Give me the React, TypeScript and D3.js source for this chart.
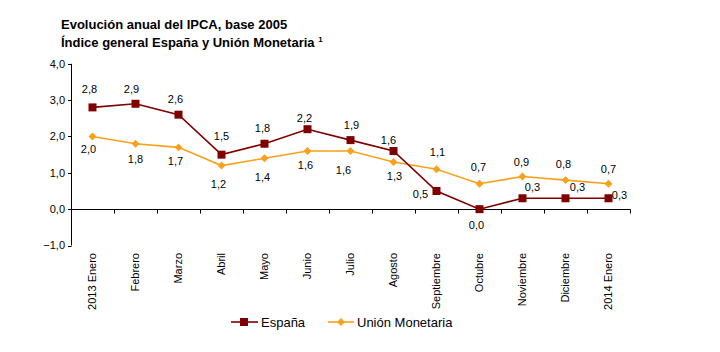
import React, { useEffect, useRef } from 'react';
import * as d3 from 'd3';

// months shown on the x axis
const months = [
    '2013 Enero', 'Febrero', 'Marzo', 'Abril', 'Mayo', 'Junio', 'Julio',
    'Agosto', 'Septiembre', 'Octubre', 'Noviembre', 'Diciembre', '2014 Enero'
];
// annual IPCA rate, %
const espana = [2.8, 2.9, 2.6, 1.5, 1.8, 2.2, 1.9, 1.6, 0.5, 0.0, 0.3, 0.3, 0.3];
const unionMonetaria = [2.0, 1.8, 1.7, 1.2, 1.4, 1.6, 1.6, 1.3, 1.1, 0.7, 0.9, 0.8, 0.7];
const yTicks = [-1, 0, 1, 2, 3, 4];

// where each value label sits relative to its point (px)
const espanaLabelOffset = [
    [-3, -18], [-4, -15], [-3, -16], [0, -19], [-2, -16], [-3, -11], [1, -15],
    [-5, -11], [-16, 3], [-3, 16], [10, -11], [12, -11], [11, -3]
];
const umLabelOffset = [
    [-4, 13], [0, 15], [-3, 14], [-3, 19], [-2, 19], [-2, 14], [-7, 19],
    [1, 14], [1, -17], [-1, -17], [-1, -14], [-2, -16], [0, -15]
];

const FONT = "Arial, 'Liberation Sans', sans-serif";
const RED = '#800000';
const ORANGE = '#F9A11B';

const fmt = (v: number) => d3.format('.1f')(v).replace('.', ',');

export default function App() {
    const ref = useRef<SVGSVGElement>(null);

    useEffect(() => {
        const svg = d3.select(ref.current);
        svg.selectAll('*').remove();

        const x = d3.scaleBand<string>().domain(months).range([71, 630]);
        const y = d3.scaleLinear().domain([-1, 4]).range([245.5, 63.8]);
        const cx = (i: number) => (x(months[i]) as number) + x.bandwidth() / 2;

        // titles
        svg.append('text')
            .attr('x', 61).attr('y', 29)
            .style('font-family', FONT).style('font-size', '13px').style('font-weight', 'bold')
            .text('Evolución anual del IPCA, base 2005');
        const t2 = svg.append('text')
            .attr('x', 61).attr('y', 47)
            .style('font-family', FONT).style('font-size', '13px').style('font-weight', 'bold');
        t2.append('tspan').text('Índice general España y Unión Monetaria ');
        t2.append('tspan').attr('dy', -5).style('font-size', '8px').text('1');

        // y axis
        const yAxis = svg.append('g');
        yAxis.append('line')
            .attr('x1', 71.5).attr('x2', 71.5)
            .attr('y1', y(4)).attr('y2', y(-1))
            .attr('stroke', '#000');
        yTicks.forEach(t => {
            yAxis.append('line')
                .attr('x1', 68).attr('x2', 71.5)
                .attr('y1', Math.round(y(t)) + 0.5).attr('y2', Math.round(y(t)) + 0.5)
                .attr('stroke', '#000');
            yAxis.append('text')
                .attr('x', 65).attr('y', y(t)).attr('dy', '0.35em')
                .attr('text-anchor', 'end')
                .style('font-family', FONT).style('font-size', '11px')
                .text(fmt(t));
        });

        // x axis at zero
        const y0 = Math.round(y(0)) + 0.5;
        svg.append('line')
            .attr('x1', 71.5).attr('x2', 630.5)
            .attr('y1', y0).attr('y2', y0)
            .attr('stroke', '#000');
        months.forEach((m, i) => {
            const bx = Math.round((x(m) as number) + x.bandwidth()) + 0.5;
            svg.append('line')
                .attr('x1', bx).attr('x2', bx)
                .attr('y1', y0).attr('y2', y0 + 4)
                .attr('stroke', '#000');
            svg.append('text')
                .attr('transform', 'translate(' + cx(i) + ',253) rotate(-90)')
                .attr('dy', '0.35em')
                .attr('text-anchor', 'end')
                .style('font-family', FONT).style('font-size', '11px')
                .text(m);
        });

        const line = d3.line<number>()
            .x((d, i) => cx(i))
            .y(d => y(d));

        // Unión Monetaria
        svg.append('path')
            .datum(unionMonetaria)
            .attr('fill', 'none').attr('stroke', ORANGE).attr('stroke-width', 1.6)
            .attr('d', line);
        svg.append('g').selectAll('path')
            .data(unionMonetaria).enter()
            .append('path')
            .attr('d', d3.symbol().type(d3.symbolDiamond2).size(40)())
            .attr('transform', (d, i) => 'translate(' + cx(i) + ',' + y(d) + ')')
            .attr('fill', ORANGE);

        // España
        svg.append('path')
            .datum(espana)
            .attr('fill', 'none').attr('stroke', RED).attr('stroke-width', 1.6)
            .attr('d', line);
        svg.append('g').selectAll('rect')
            .data(espana).enter()
            .append('rect')
            .attr('x', (d, i) => cx(i) - 4).attr('y', d => y(d) - 4)
            .attr('width', 8).attr('height', 8)
            .attr('fill', RED);

        // value labels
        const labels = (data: number[], off: number[][]) => {
            svg.append('g').selectAll('text')
                .data(data).enter()
                .append('text')
                .attr('x', (d, i) => cx(i) + off[i][0])
                .attr('y', (d, i) => y(d) + off[i][1])
                .attr('dy', '0.35em')
                .attr('text-anchor', 'middle')
                .style('font-family', FONT).style('font-size', '11px')
                .text(d => fmt(d));
        };
        labels(espana, espanaLabelOffset);
        labels(unionMonetaria, umLabelOffset);

        // legend
        const lg = svg.append('g').attr('transform', 'translate(0,322)');
        lg.append('line').attr('x1', 231).attr('x2', 258).attr('y1', 0).attr('y2', 0)
            .attr('stroke', RED).attr('stroke-width', 1.6);
        lg.append('rect').attr('x', 240).attr('y', -4).attr('width', 8).attr('height', 8)
            .attr('fill', RED);
        lg.append('text').attr('x', 261).attr('y', 0).attr('dy', '0.35em')
            .style('font-family', FONT).style('font-size', '13px')
            .text('España');
        lg.append('line').attr('x1', 328).attr('x2', 354).attr('y1', 0).attr('y2', 0)
            .attr('stroke', ORANGE).attr('stroke-width', 1.6);
        lg.append('path')
            .attr('d', d3.symbol().type(d3.symbolDiamond2).size(40)())
            .attr('transform', 'translate(341,0)')
            .attr('fill', ORANGE);
        lg.append('text').attr('x', 357).attr('y', 0).attr('dy', '0.35em')
            .style('font-family', FONT).style('font-size', '13px')
            .text('Unión Monetaria');
    }, []);

    return (
        <svg ref={ref} width={720} height={352}
            style={{ position: 'absolute', left: 0, top: 0, background: '#fff' }} />
    );
}
